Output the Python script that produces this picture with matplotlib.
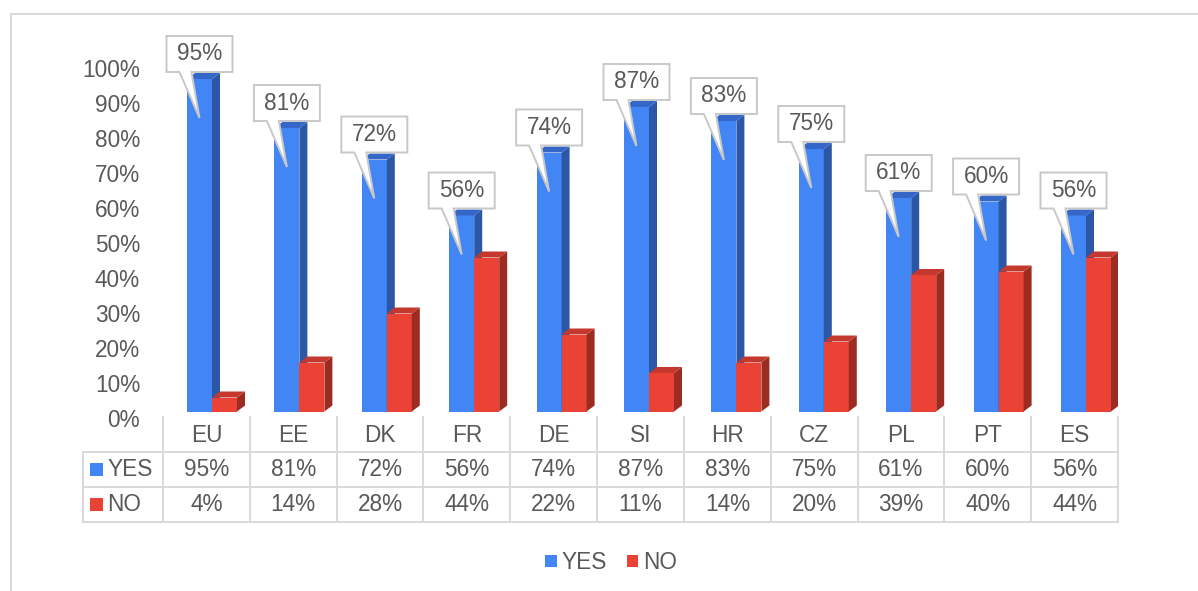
import matplotlib
matplotlib.use("Agg")
import matplotlib.pyplot as plt
from matplotlib.patches import Polygon, Rectangle, Patch
from matplotlib.transforms import ScaledTranslation
import numpy as np

# ---- data ----
categories = ["EU", "EE", "DK", "FR", "DE", "SI", "HR", "CZ", "PL", "PT", "ES"]
yes_vals = [0.95, 0.81, 0.72, 0.56, 0.74, 0.87, 0.83, 0.75, 0.61, 0.60, 0.56]
no_vals = [0.04, 0.14, 0.28, 0.44, 0.22, 0.11, 0.14, 0.20, 0.39, 0.40, 0.44]
series_names = ["YES", "NO"]
y_ticks = [0.0, 0.1, 0.2, 0.3, 0.4, 0.5, 0.6, 0.7, 0.8, 0.9, 1.0]

# ---- style ----
W, H, DPI = 1198, 591, 100
TEXT = "#595959"
GRID = "#d9d9d9"
FONT = "Liberation Sans"
FS = 16.3
blue = {"front": "#4285F4", "top": "#3567c8", "side": "#2b57a6"}
red = {"front": "#EA4335", "top": "#c4382d", "side": "#9c2b22"}

plt.rcParams["font.family"] = [FONT, "DejaVu Sans"]

fig = plt.figure(figsize=(W / DPI, H / DPI), dpi=DPI)

# plot area in pixels
ax_l, ax_r, ax_b, ax_t = 163, 1118, 411.5, 61.5
ax = fig.add_axes([ax_l / W, 1 - ax_b / H, (ax_r - ax_l) / W, (ax_b - ax_t) / H])

px_x = 87.4                      # pixels per category step
px_y = ax_b - ax_t               # pixels per 100%
x0 = -(187 - ax_l) / px_x
ax.set_xlim(x0, x0 + (ax_r - ax_l) / px_x)
ax.set_ylim(0, 1)
for s in ax.spines.values():
    s.set_visible(False)
ax.set_xticks([])

ax.set_yticks(y_ticks)
ax.set_yticklabels([f"{int(round(t * 100))}%" for t in y_ticks],
                   fontsize=FS, color=TEXT)
ax.tick_params(axis="y", length=0, pad=16.5)
shift = ScaledTranslation(0, -6.5 / DPI, fig.dpi_scale_trans)
for lab in ax.get_yticklabels():
    lab.set_transform(lab.get_transform() + shift)

bw = 25 / px_x     # front face width
dx = 8 / px_x      # depth offset x
dy = 6 / px_y      # depth offset y


def bar3d(x, h, cols, z):
    ax.bar(x, h, width=bw, align="edge", color=cols["front"], zorder=z,
           linewidth=0)
    side = [(x + bw, 0), (x + bw + dx, dy), (x + bw + dx, h + dy), (x + bw, h)]
    top = [(x, h), (x + dx, h + dy), (x + bw + dx, h + dy), (x + bw, h)]
    ax.add_patch(Polygon(side, closed=True, fc=cols["side"], ec="none",
                         zorder=z))
    ax.add_patch(Polygon(top, closed=True, fc=cols["top"], ec="none",
                         zorder=z))


for i, (yv, nv) in enumerate(zip(yes_vals, no_vals)):
    bar3d(i, yv, blue, 2 + i * 0.01)
    bar3d(i + bw, nv, red, 2.005 + i * 0.01)

# callouts above the YES bars
bx_w = 66 / px_x
bx_h = 36 / px_y
for i, yv in enumerate(yes_vals):
    cx = i + bw / 2
    L, R = cx - bx_w / 2, cx + bx_w / 2
    B = yv + 7 / px_y
    T = B + bx_h
    tip = (cx, yv - 39 / px_y)
    p1 = L + 13 / px_x
    p2 = L + 25 / px_x
    pts = [(L, T), (R, T), (R, B), (p2, B), tip, (p1, B), (L, B)]
    ax.add_patch(Polygon(pts, closed=True, fc="white", ec="#c8c8c8",
                         lw=1.4, zorder=5, clip_on=False, joinstyle="miter"))
    ax.text(cx, (B + T) / 2, f"{int(round(yv * 100))}%", ha="center",
            va="center", fontsize=FS, color=TEXT, zorder=6, clip_on=False)

# ---- data table below the plot ----
def fx(p):
    return (p - ax_l) / (ax_r - ax_l)


def fy(p):
    return (ax_b - p) / px_y


ta = ax.transAxes
ncol = len(categories)
col_w = 1.0 / ncol
lw_tab = 1.4
y_hdr, y_r1, y_r2, y_bot = fy(417), fy(451.5), fy(487), fy(522)
x_left = fx(83)

for k in range(ncol + 1):
    ax.plot([k * col_w, k * col_w], [y_hdr, y_bot], color=GRID, lw=lw_tab,
            transform=ta, clip_on=False, zorder=1)
for yy in (y_r1, y_r2, y_bot):
    ax.plot([x_left, 1], [yy, yy], color=GRID, lw=lw_tab, transform=ta,
            clip_on=False, zorder=1)
ax.plot([x_left, x_left], [y_r1, y_bot], color=GRID, lw=lw_tab,
        transform=ta, clip_on=False, zorder=1)

for k, c in enumerate(categories):
    xc = (k + 0.5) * col_w
    ax.text(xc, fy(436), c, ha="center", va="center", fontsize=FS,
            color=TEXT, transform=ta, clip_on=False)
    ax.text(xc, fy(469.5), f"{int(round(yes_vals[k] * 100))}%",
            ha="center", va="center", fontsize=FS, color=TEXT,
            transform=ta, clip_on=False)
    ax.text(xc, fy(504.5), f"{int(round(no_vals[k] * 100))}%",
            ha="center", va="center", fontsize=FS, color=TEXT,
            transform=ta, clip_on=False)

for name, cols, yc in ((series_names[0], blue, 469.5),
                       (series_names[1], red, 504.5)):
    ax.add_patch(Rectangle((fx(90), fy(yc + 6.5)), fx(103) - fx(90),
                           fy(yc - 6.5) - fy(yc + 6.5), transform=ta,
                           fc=cols["front"], ec="none", clip_on=False))
    ax.text(fx(107), fy(yc), name, ha="left", va="center", fontsize=FS,
            color=TEXT, transform=ta, clip_on=False)

# ---- legend ----
handles = [Patch(facecolor=blue["front"], edgecolor="none"),
           Patch(facecolor=red["front"], edgecolor="none")]
fig.legend(handles, series_names, loc="center",
           bbox_to_anchor=(611 / W, 1 - 562.5 / H), ncol=2, frameon=False,
           fontsize=FS, labelcolor=TEXT, handlelength=0.5,
           handleheight=0.5, handletextpad=0.2, columnspacing=0.9)

# outer chart border
fig.add_artist(Rectangle((10.5 / W, -0.05), 1.1, 1 - 13.5 / H + 0.05,
                         transform=fig.transFigure, fill=False, ec=GRID,
                         lw=1.4, zorder=0))

fig.savefig("out.png", dpi=DPI, facecolor="white")
